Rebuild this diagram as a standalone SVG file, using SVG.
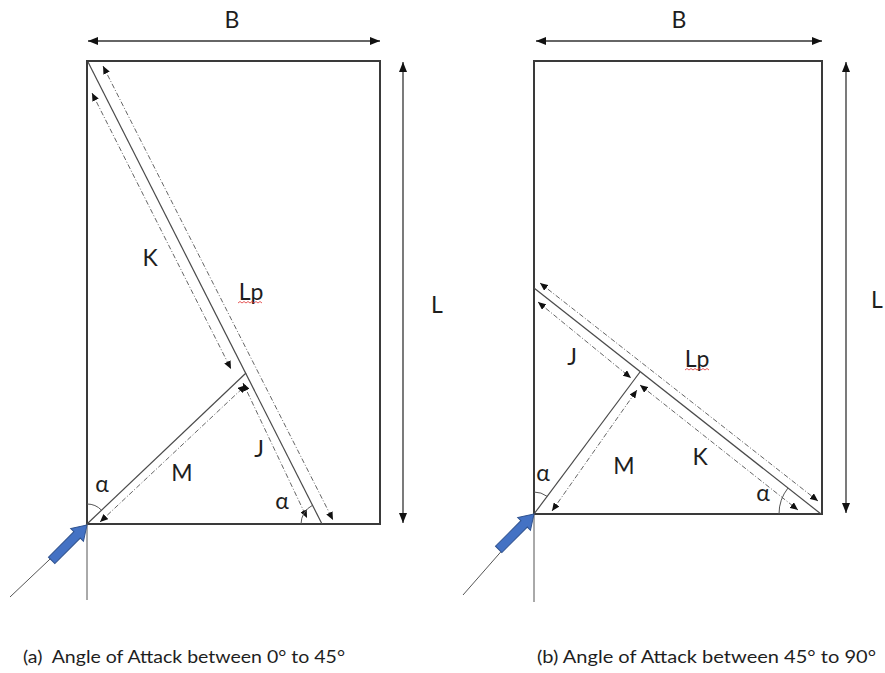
<svg xmlns="http://www.w3.org/2000/svg" width="885" height="673" viewBox="0 0 885 673">
<style>
text{font-family:Lato,"Open Sans","Liberation Sans",sans-serif;fill:#1e1e1e}
.lbl{font-size:23px;text-anchor:middle}
.cap{font-size:18px}
.rect{fill:none;stroke:#3a3a3a;stroke-width:2}
.solid{fill:none;stroke:#4a4a4a;stroke-width:1.2}
.thin{fill:none;stroke:#555;stroke-width:1}
.dim{fill:none;stroke:#666;stroke-width:1;stroke-dasharray:5 2 1 2;marker-start:url(#sa);marker-end:url(#sa)}
.big{fill:none;stroke:#333;stroke-width:1.3;marker-start:url(#ba);marker-end:url(#ba)}
.arc{fill:none;stroke:#555;stroke-width:1}
.blue{fill:#4472C4;stroke:#2F528F;stroke-width:1}
.wave{fill:none;stroke:#e03030;stroke-width:0.8}
</style>
<defs>
<marker id="sa" viewBox="0 0 8 7" refX="8" refY="3.5" markerWidth="8" markerHeight="7" markerUnits="userSpaceOnUse" orient="auto-start-reverse"><path d="M0,0 L8,3.5 L0,7 z" fill="#111"/></marker>
<marker id="ba" viewBox="0 0 10 8" refX="10" refY="4" markerWidth="10" markerHeight="8" markerUnits="userSpaceOnUse" orient="auto-start-reverse"><path d="M0,0 L10,4 L0,8 z" fill="#111"/></marker>
<path id="blk" d="M0,0 L-14,-9 L-14,-4.5 L-50,-4.5 L-50,4.5 L-14,4.5 L-14,9 z"/>
</defs>

<g id="diagram-a">
  <g id="a-box"><rect class="rect" x="87" y="61" width="293" height="463"/></g>
  <g id="a-connectors">
    <line class="solid" x1="88" y1="62" x2="322" y2="524"/>
    <line class="solid" x1="87" y1="524" x2="246" y2="373"/>
    <line class="thin" x1="87" y1="524" x2="87" y2="600"/>
    <line class="thin" x1="10" y1="597" x2="87" y2="524"/>
    <line class="dim" x1="103" y1="66" x2="333" y2="520"/>
    <line class="dim" x1="92" y1="93" x2="231" y2="369"/>
    <line class="dim" x1="243" y1="383" x2="307" y2="518"/>
    <line class="dim" x1="100" y1="522" x2="246" y2="385"/>
    <line class="big" x1="88" y1="41" x2="380" y2="41"/>
    <line class="big" x1="403" y1="62" x2="403" y2="523"/>
    <path class="arc" d="M87,504 A20,20 0 0 1 101.5,510.2"/>
    <path class="arc" d="M301,524 A21,21 0 0 1 312.5,505.3"/>
  </g>
  <g id="a-wind"><use href="#blk" class="blue" transform="translate(87,525) rotate(-45)"/></g>
  <g id="a-labels">
    <text class="lbl" x="232" y="28">B</text>
    <text class="lbl" x="437" y="313">L</text>
    <text class="lbl" x="150" y="266">K</text>
    <text class="lbl" x="251" y="300">Lp</text>
    <path class="wave" d="M238,303 l2,-1.5 l2,1.5 l2,-1.5 l2,1.5 l2,-1.5 l2,1.5 l2,-1.5 l2,1.5 l2,-1.5 l2,1.5 l2,-1.5 l2,1.5"/>
    <text class="lbl" x="182" y="481">M</text>
    <text class="lbl" x="259" y="457">J</text>
    <text class="lbl" x="102" y="492">α</text>
    <text class="lbl" x="282" y="509">α</text>
  </g>
</g>

<g id="diagram-b">
  <g id="b-box"><rect class="rect" x="534" y="61" width="288" height="453"/></g>
  <g id="b-connectors">
    <line class="solid" x1="534" y1="288" x2="821" y2="514"/>
    <line class="solid" x1="534" y1="514" x2="640" y2="372"/>
    <line class="thin" x1="534" y1="514" x2="534" y2="602"/>
    <line class="thin" x1="463" y1="595" x2="534" y2="514"/>
    <line class="dim" x1="540" y1="283" x2="818" y2="501"/>
    <line class="dim" x1="538" y1="302" x2="631" y2="378"/>
    <line class="dim" x1="640" y1="385" x2="798" y2="510"/>
    <line class="dim" x1="552" y1="511" x2="637" y2="390"/>
    <line class="big" x1="536" y1="41" x2="822" y2="41"/>
    <line class="big" x1="846" y1="62" x2="846" y2="513"/>
    <path class="arc" d="M534,492 A22,22 0 0 1 547.2,496.4"/>
    <path class="arc" d="M779,514 A42,42 0 0 1 788,488"/>
  </g>
  <g id="b-wind"><use href="#blk" class="blue" transform="translate(534,514) rotate(-45)"/></g>
  <g id="b-labels">
    <text class="lbl" x="679" y="28">B</text>
    <text class="lbl" x="877" y="308">L</text>
    <text class="lbl" x="572" y="365">J</text>
    <text class="lbl" x="697" y="367">Lp</text>
    <path class="wave" d="M685,370 l2,-1.5 l2,1.5 l2,-1.5 l2,1.5 l2,-1.5 l2,1.5 l2,-1.5 l2,1.5 l2,-1.5 l2,1.5 l2,-1.5 l2,1.5"/>
    <text class="lbl" x="624" y="474">M</text>
    <text class="lbl" x="700" y="465">K</text>
    <text class="lbl" x="543" y="481">α</text>
    <text class="lbl" x="763" y="501">α</text>
  </g>
</g>

<g id="captions">
  <text class="cap" x="23" y="663" textLength="322" lengthAdjust="spacingAndGlyphs" xml:space="preserve">(a)  Angle of Attack between 0° to 45°</text>
  <text class="cap" x="537" y="663" textLength="339" lengthAdjust="spacingAndGlyphs">(b) Angle of Attack between 45° to 90°</text>
</g>
</svg>
